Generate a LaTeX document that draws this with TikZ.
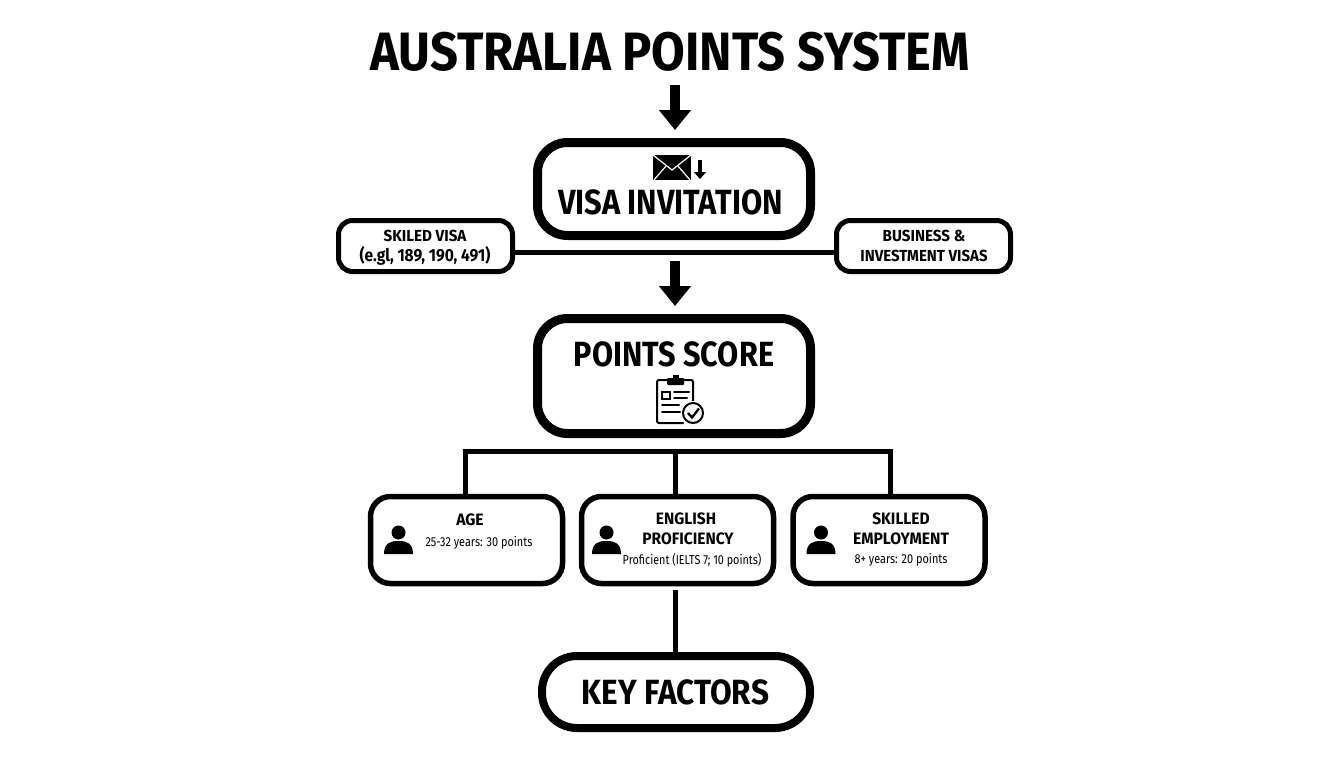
\documentclass[tikz,border=0pt]{standalone}
\usepackage{fontspec}
\setmainfont{Fira Sans}
\usetikzlibrary{arrows.meta,calc}
\newcommand{\sqz}[2][0.86]{\scalebox{#1}[1]{#2}}
\tikzset{
 x=1pt,y=-1pt,
 bigbox/.style={draw=black,line width=9pt,rounded corners=30pt,fill=white,minimum width=273pt,inner sep=0pt},
 smallbox/.style={draw=black,line width=5pt,rounded corners=14pt,fill=white,minimum width=174pt,minimum height=51pt,inner sep=0pt},
 factorbox/.style={draw=black,line width=5.5pt,rounded corners=20pt,fill=white,minimum width=192pt,minimum height=87pt,inner sep=0pt},
 link/.style={draw=black,line width=5pt},
 bigarrow/.style={draw=black,line width=10pt,-{Triangle[length=20pt,width=31pt]}},
 txt/.style={inner sep=0pt,text=black,align=center},
 person/.style={fill=black,draw=none},
 iconline/.style={draw=black,line width=2pt,line cap=round},
}
\newcommand{\personicon}[2]{%
 \fill[person] (#1,#2-7.5) circle (7pt);
 \fill[person] (#1-14.5,#2+14) .. controls (#1-14.5,#2+3) and (#1-8,#2+1) .. (#1,#2+1) .. controls (#1+8,#2+1) and (#1+14.5,#2+3) .. (#1+14.5,#2+14) -- cycle;
}
\begin{document}
\begin{tikzpicture}
\useasboundingbox[fill=white] (0,0) rectangle (1344,768);
% boxes
\node[txt] (title) at (670,52) {\fontsize{54}{60}\selectfont\bfseries\sqz[0.905]{AUSTRALIA POINTS SYSTEM}};
\node[bigbox,minimum height=93pt] (visa) at (674,189) {};
\node[bigbox,minimum height=115pt] (score) at (674,376) {};
\node[smallbox] (skilledvisa) at (425.5,246) {};
\node[smallbox] (business) at (923.5,246) {};
\node[factorbox] (age) at (466.5,540) {};
\node[factorbox] (english) at (677.5,540) {};
\node[factorbox] (employment) at (889,540) {};
\node[bigbox,line width=8pt,rounded corners=35pt,minimum width=268pt,minimum height=72pt] (key) at (676,692) {};
% connectors
\coordinate (linkY) at (675,252);
\draw[link] (skilledvisa.east |- linkY) -- (business.west |- linkY);
\coordinate (a1top) at (675,85);
\coordinate (a2top) at (675,261);
\coordinate (a2end) at (675,306);
\draw[bigarrow,shorten >=8pt] (a1top) -- (visa.north -| a1top);
\draw[bigarrow] (a2top) -- (a2end);
\coordinate (barL) at (465,451);
\coordinate (barR) at (890,451);
\coordinate (barM) at (675,451);
\draw[link,line cap=butt] ($(barL)+(-2.5,0)$) -- ($(barR)+(2.5,0)$);
\draw[link] (barL) -- (barL |- age.north);
\draw[link] (barM) -- (barM |- english.north);
\draw[link] (barR) -- (barR |- employment.north);
\coordinate (keyTop) at (675,590);
\draw[link] (keyTop) -- (keyTop |- key.north);
% labels
\node[txt] at (670.5,202) {\fontsize{35}{40}\selectfont\bfseries\sqz[0.88]{VISA INVITATION}};
\node[txt] at (674,354) {\fontsize{35}{40}\selectfont\bfseries\sqz[0.875]{POINTS SCORE}};
\node[txt] at (675.5,692) {\fontsize{35}{40}\selectfont\bfseries\sqz[0.90]{KEY FACTORS}};
\node[txt] at (425,236) {\fontsize{16}{18}\selectfont\bfseries\sqz[0.95]{SKILED VISA}};
\node[txt] at (425,256) {\fontsize{17.5}{18}\selectfont\bfseries\sqz[0.89]{(e.gl, 189, 190, 491)}};
\node[txt] at (924,236) {\fontsize{16}{18}\selectfont\bfseries\sqz[0.95]{BUSINESS \&}};
\node[txt] at (924,256) {\fontsize{16}{18}\selectfont\bfseries\sqz[0.94]{INVESTMENT VISAS}};
\node[txt] at (470,520) {\fontsize{16.5}{18}\selectfont\bfseries\sqz[0.95]{AGE}};
\node[txt] at (479,543) {\fontsize{13}{15}\selectfont\sqz[0.84]{25-32 years: 30 points}};
\node[txt] at (686,519) {\fontsize{16.5}{18}\selectfont\bfseries\sqz[0.94]{ENGLISH}};
\node[txt] at (688,539) {\fontsize{16.5}{18}\selectfont\bfseries\sqz[0.94]{PROFICIENCY}};
\node[txt] at (692,560) {\fontsize{13}{15}\selectfont\sqz[0.83]{Proficient (IELTS 7; 10 points)}};
\node[txt] at (901,519) {\fontsize{16.5}{18}\selectfont\bfseries\sqz[0.94]{SKILLED}};
\node[txt] at (901,539) {\fontsize{16.5}{18}\selectfont\bfseries\sqz[0.95]{EMPLOYMENT}};
\node[txt] at (901,560) {\fontsize{13}{15}\selectfont\sqz[0.84]{8+ years: 20 points}};
% persons
\personicon{398.5}{540}
\personicon{606.5}{540}
\personicon{821}{540}
% envelope
\fill[black] (653,155) rectangle (691,180);
\draw[white,line width=1.2pt] (653,155) -- (672,170) -- (691,155);
\draw[white,line width=1.2pt] (654,180) -- (666,166);
\draw[white,line width=1.2pt] (690,180) -- (678,166);
\draw[black,line width=3.5pt,-{Triangle[length=7pt,width=12pt]}] (700,160) -- (700,179);
% clipboard
\draw[iconline,rounded corners=2pt] (667,380) -- (657,380) -- (657,423) -- (683,423);
\draw[iconline,rounded corners=2pt] (683,380) -- (693,380) -- (693,403);
\fill[black,rounded corners=1pt] (667,378) rectangle (684,385);
\fill[black] (672.5,375) rectangle (678.5,379);
\draw[black,line width=1.6pt] (662,392) rectangle (670,399);
\draw[iconline] (674,392) -- (689,392);
\draw[iconline] (674,398) -- (687,398);
\draw[iconline] (662,405) -- (679,405);
\draw[iconline] (662,412) -- (680,412);
\fill[white] (693,413) circle (12pt);
\draw[black,line width=2pt] (693,413) circle (10pt);
\draw[black,line width=2.3pt] (688,413) -- (692,417.5) -- (699,408.5);
\end{tikzpicture}
\end{document}
